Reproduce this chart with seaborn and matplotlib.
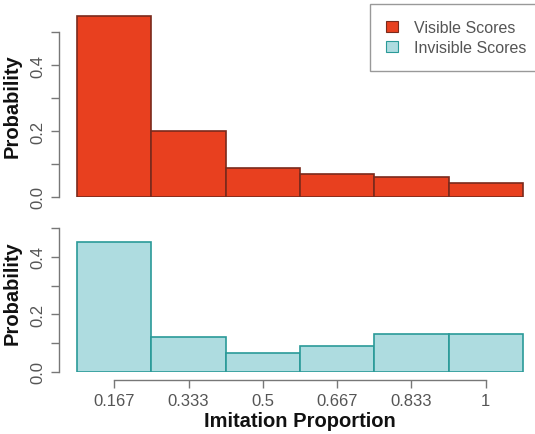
import matplotlib
matplotlib.use("Agg")
import matplotlib.pyplot as plt
import pandas as pd
import seaborn as sns
from matplotlib.patches import Patch

# Binned imitation proportions and their probabilities
categories = ["0.167", "0.333", "0.5", "0.667", "0.833", "1"]
visible = [0.548, 0.200, 0.088, 0.070, 0.060, 0.042]
invisible = [0.450, 0.121, 0.067, 0.090, 0.132, 0.132]
y_ticks = [0.0, 0.1, 0.2, 0.3, 0.4, 0.5]
y_tick_labels = ["0.0", "", "0.2", "", "0.4", ""]

red_fill, red_edge = "#E8401F", "#7A2A1C"
teal_fill, teal_edge = "#AEDCE0", "#2A9A98"
tick_grey = "#555555"

sns.set_style("white")
plt.rcParams["font.family"] = ["Liberation Sans", "DejaVu Sans"]

W, H = 535, 435
fig = plt.figure(figsize=(W / 100, H / 100), dpi=100)


def axes_px(left, base, width, height):
    """Add axes given in pixel units (base = pixel row of the axes bottom)."""
    return fig.add_axes([left / W, (H - base) / H, width / W, height / H])


unit = 74.3  # pixels per category
xlim = (-0.74, 5.74)
ax_left = 114.3 + xlim[0] * unit
ax_width = (xlim[1] - xlim[0]) * unit

ax_top = axes_px(ax_left, 198, ax_width, 0.58 * 330)
ax_bot = axes_px(ax_left, 373, ax_width, 0.5 * 288)

df_vis = pd.DataFrame({"prop": categories, "prob": visible})
df_inv = pd.DataFrame({"prop": categories, "prob": invisible})

sns.barplot(data=df_vis, x="prop", y="prob", order=categories, ax=ax_top,
            color=red_fill, saturation=1, width=1.0,
            edgecolor=red_edge, linewidth=1.2)
sns.barplot(data=df_inv, x="prop", y="prob", order=categories, ax=ax_bot,
            color=teal_fill, saturation=1, width=1.0,
            edgecolor=teal_edge, linewidth=1.2)

ax_top.set_ylim(0, 0.58)
ax_bot.set_ylim(0, 0.5)

for ax in (ax_top, ax_bot):
    ax.set_xlim(*xlim)
    for side in ("top", "right"):
        ax.spines[side].set_visible(False)
    ax.spines["left"].set_bounds(0, 0.5)
    ax.spines["left"].set_color("#777777")
    ax.spines["left"].set_linewidth(1.0)
    ax.set_yticks(y_ticks)
    ax.set_yticklabels(y_tick_labels, rotation=90, va="center")
    ax.tick_params(axis="y", direction="out", length=6, width=1.0,
                   color="#777777", labelsize=12, labelcolor=tick_grey,
                   pad=4, left=True)
    ax.set_ylabel("Probability", fontsize=14.5, fontweight="bold",
                  color="#111111")
    ax.patch.set_alpha(0)

ax_top.yaxis.set_label_coords((22 - ax_left) / ax_width,
                              (198 - 106) / (0.58 * 330))
ax_bot.yaxis.set_label_coords((22 - ax_left) / ax_width,
                              (373 - 293) / (0.5 * 288))

# Top panel: no x axis
ax_top.spines["bottom"].set_visible(False)
ax_top.set_xticks([])
ax_top.set_xlabel("")

# Bottom panel: detached x axis from first to last category
ax_bot.spines["bottom"].set_bounds(0, 5)
ax_bot.spines["bottom"].set_position(("outward", 6))
ax_bot.spines["bottom"].set_color("#777777")
ax_bot.spines["bottom"].set_linewidth(1.0)
ax_bot.set_xticks(range(len(categories)))
ax_bot.set_xticklabels(categories)
ax_bot.tick_params(axis="x", direction="out", length=6, width=1.0,
                   color="#777777", labelsize=12, labelcolor=tick_grey,
                   pad=3, bottom=True)
ax_bot.set_xlabel("Imitation Proportion", fontsize=14.5, fontweight="bold",
                  color="#111111", labelpad=2)

handles = [Patch(facecolor=red_fill, edgecolor=red_edge, linewidth=0.8),
           Patch(facecolor=teal_fill, edgecolor=teal_edge, linewidth=0.8)]
leg = fig.legend(handles, ["Visible Scores", "Invisible Scores"],
                 loc="upper left", bbox_to_anchor=(370 / W, 1 - 5 / H),
                 fontsize=11.5, labelcolor=tick_grey, frameon=True,
                 fancybox=False, framealpha=1, edgecolor="#999999",
                 handlelength=0.75, handleheight=0.7, handletextpad=1.0,
                 borderpad=1.0, labelspacing=0.3, borderaxespad=0)
leg.get_frame().set_linewidth(1.0)

fig.savefig("out.png", dpi=100)
